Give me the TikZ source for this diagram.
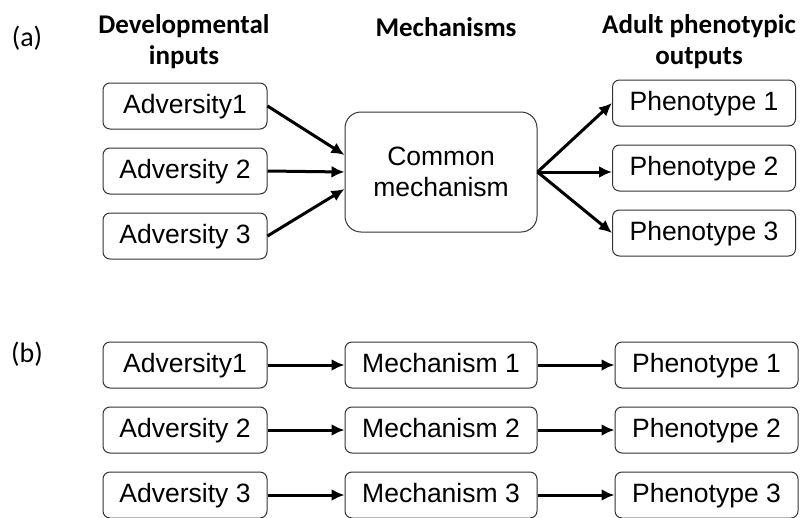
\documentclass[tikz,border=0pt]{standalone}
\usepackage{fontspec}
\setmainfont{Liberation Sans}
\newfontfamily\headfont{Carlito}
\usetikzlibrary{arrows.meta,positioning}

\begin{document}
\begin{tikzpicture}[x=1pt,y=1pt,>={Latex[length=13pt,width=12pt]},node distance=65pt,
    box/.style={draw=black!80,line width=1pt,rounded corners=7pt,minimum height=46pt,
                text height=19pt,text depth=5pt,font=\fontsize{26.5}{31}\selectfont},
    inbox/.style={box,minimum width=164pt},
    midbox/.style={box,minimum width=192pt},
    outbox/.style={box,minimum width=183pt},
    head/.style={font=\headfont\bfseries\fontsize{27}{31}\selectfont,align=center},
    panel/.style={font=\headfont\fontsize{28}{31}\selectfont},
    link/.style={->,line width=3pt}]
    \useasboundingbox (0,0) rectangle (805,-517);

    % (a)
    \node[panel]  (la) at (27,-38)                         {(a)};
    \node[head]   (h1) at (184,-42)                        {Developmental\\inputs};
    \node[head]   (h2) at (446,-27)                        {Mechanisms};
    \node[head]   (h3) at (699,-42)                        {Adult phenotypic\\outputs};

    \node[inbox]  (a1) at (185,-106)                       {Adversity1};
    \node[inbox]  (a2) [below of=a1]                       {Adversity 2};
    \node[inbox]  (a3) [below of=a2]                       {Adversity 3};
    \node[midbox] (cm) at (441,-172) [minimum height=120pt,rounded corners=16pt,align=center,
                                      text height=,text depth=]
                                                           {Common\\mechanism};
    \node[outbox] (p1) at (704,-103)                       {Phenotype 1};
    \node[outbox] (p2) [below of=p1]                       {Phenotype 2};
    \node[outbox] (p3) [below of=p2]                       {Phenotype 3};

    \path[link] (a1.east) edge (cm.170)
                (a2.east) edge (cm.west)
                (a3.east) edge (cm.190)
                (cm.east) edge (p1.west)
                (cm.east) edge (cm.east -| p2.west)
                (cm.east) edge (p3.west)
                ;

    % (b)
    \node[panel]  (lb) at (27,-354)                        {(b)};

    \node[inbox]  (ba1) at (185,-365)                      {Adversity1};
    \node[inbox]  (ba2) [below of=ba1]                     {Adversity 2};
    \node[inbox]  (ba3) [below of=ba2]                     {Adversity 3};
    \node[midbox] (bm1) [right=77pt of ba1]                {Mechanism 1};
    \node[midbox] (bm2) [right=77pt of ba2]                {Mechanism 2};
    \node[midbox] (bm3) [right=77pt of ba3]                {Mechanism 3};
    \node[outbox] (bp1) [right=77pt of bm1]                {Phenotype 1};
    \node[outbox] (bp2) [right=77pt of bm2]                {Phenotype 2};
    \node[outbox] (bp3) [right=77pt of bm3]                {Phenotype 3};

    \path[link] (ba1) edge (bm1)
                (ba2) edge (bm2)
                (ba3) edge (bm3)
                (bm1) edge (bp1)
                (bm2) edge (bp2)
                (bm3) edge (bp3)
                ;
\end{tikzpicture}
\end{document}
